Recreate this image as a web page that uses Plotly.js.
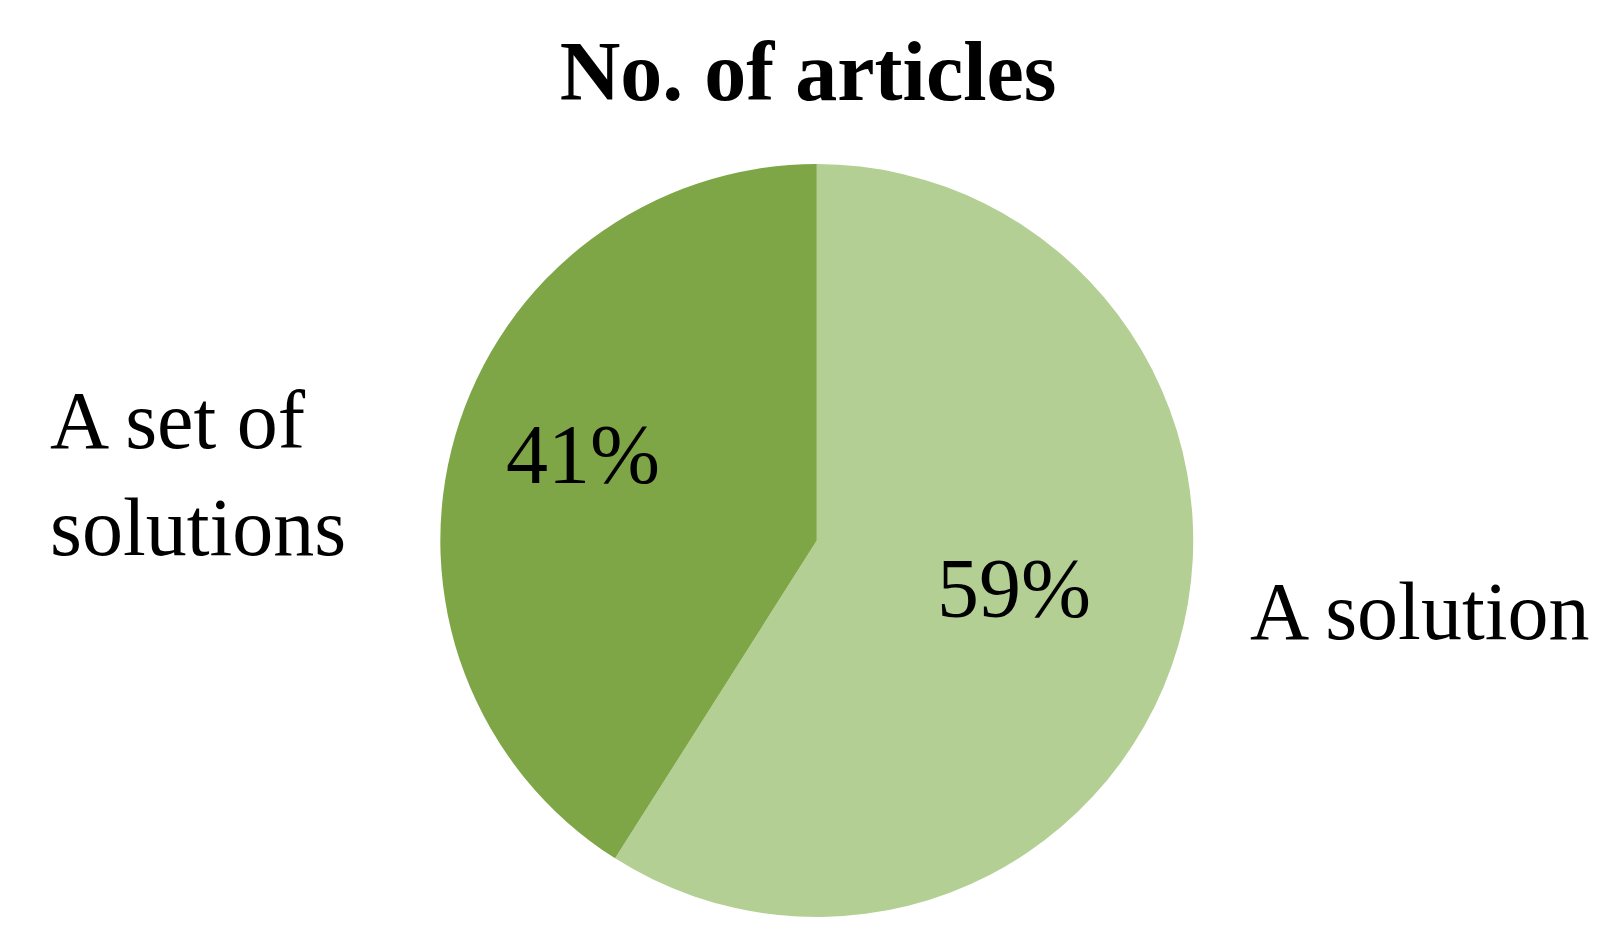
<!DOCTYPE html>
<html>
<head>
<meta charset="utf-8">
<script src="https://cdn.plot.ly/plotly-3.0.1.min.js"></script>
<style>html,body{margin:0;padding:0;background:#fff;}#chart{width:1611px;height:943px;}</style>
</head>
<body>
<div id="chart"></div>
<script>
const chartTitle = "No. of articles";
const labels = ["A solution", "A set of solutions"];
const labelLines = ["A solution", "A set of<br>solutions"];
const values = [59, 41];
const colors = ["#B3CF94", "#7FA646"];

const serif = "'Liberation Serif', 'Times New Roman', serif";
const total = values.reduce((a, b) => a + b, 0);
const pctText = values.map(v => Math.round(100 * v / total) + "%");

const trace = {
  type: "pie",
  labels: labels,
  values: values,
  sort: false,
  direction: "clockwise",
  rotation: 0,
  marker: {colors: colors, line: {width: 0}},
  textinfo: "none",
  hoverinfo: "label+percent",
  showlegend: false,
  domain: {x: [0.273, 0.741], y: [0.0276, 0.826]}
};

const pctPos = [{x: 0.6294, y: 0.3764}, {x: 0.362, y: 0.5175}];

const annotations = [
  {text: labelLines[1], xref: "paper", yref: "paper", x: 0.0298, y: 0.497,
   xanchor: "left", yanchor: "middle", align: "left", showarrow: false,
   font: {family: serif, size: 82, color: "#000"}},
  {text: labelLines[0], xref: "paper", yref: "paper", x: 0.7747, y: 0.352,
   xanchor: "left", yanchor: "middle", align: "left", showarrow: false,
   font: {family: serif, size: 82, color: "#000"}}
];
pctText.forEach((t, i) => annotations.push({
  text: t, xref: "paper", yref: "paper", x: pctPos[i].x, y: pctPos[i].y,
  xanchor: "center", yanchor: "middle", showarrow: false,
  font: {family: serif, size: 84, color: "#000"}
}));

const layout = {
  width: 1611,
  height: 943,
  margin: {l: 0, r: 0, t: 0, b: 0},
  paper_bgcolor: "#fff",
  showlegend: false,
  title: {
    text: "<b>" + chartTitle + "</b>",
    font: {family: serif, size: 84, color: "#000"},
    x: 0.5016, xanchor: "center",
    y: 0.925, yanchor: "middle",
    xref: "paper", yref: "container"
  },
  annotations: annotations
};

Plotly.newPlot("chart", [trace], layout, {displayModeBar: false, staticPlot: true});
</script>
</body>
</html>
